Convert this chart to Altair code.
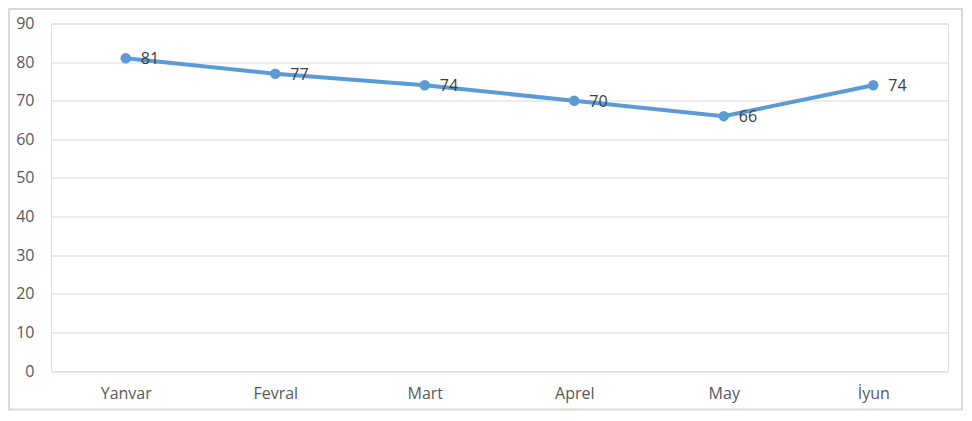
import altair as alt
import pandas as pd

months = ["Yanvar", "Fevral", "Mart", "Aprel", "May", "İyun"]
values = [81, 77, 74, 70, 66, 74]
y_ticks = [0, 10, 20, 30, 40, 50, 60, 70, 80, 90]

df = pd.DataFrame({"month": months, "value": values})

W, H = 897, 347.5
FONT = "Open Sans"

x_enc = alt.X("month:N", sort=months,
              scale=alt.Scale(type="point", padding=0.5),
              axis=alt.Axis(title=None, labelAngle=0, ticks=False, domain=False,
                            grid=False, labelColor="#595959", labelFont=FONT,
                            labelFontSize=16, labelPadding=14))
y_enc = alt.Y("value:Q", scale=alt.Scale(domain=[0, 90], nice=False),
              axis=alt.Axis(title=None, values=y_ticks, ticks=False, domain=False,
                            grid=True, gridColor="#D9D9D9", gridWidth=1,
                            labelColor="#595959", labelFont=FONT,
                            labelFontSize=16, labelPadding=17))

border = alt.Chart(pd.DataFrame({"a": [0]})).mark_rect(
    fill=None, stroke="#D9D9D9", strokeWidth=2
).encode(
    x=alt.value(-42), x2=alt.value(W + 14),
    y=alt.value(-14.5), y2=alt.value(H + 38.5)
)

base = alt.Chart(df)
line = base.mark_line(color="#5B9BD5", strokeWidth=4).encode(x=x_enc, y=y_enc)
points = base.mark_point(filled=True, color="#5B9BD5", size=110, opacity=1).encode(x=x_enc, y=y_enc)
labels = base.mark_text(align="left", baseline="middle", dx=15, dy=1,
                        font=FONT, fontSize=16, color="#404040").encode(
    x=x_enc, y=y_enc, text="value:Q")

chart = alt.layer(border, line, points, labels).properties(
    width=W, height=H,
    autosize=alt.AutoSizeParams(type="none"),
    padding={"left": 43, "top": 15.5, "right": 16, "bottom": 40},
).configure_view(stroke=None).configure(background="white")

chart.save("out.html", embed_options={"renderer": "svg", "actions": False})
